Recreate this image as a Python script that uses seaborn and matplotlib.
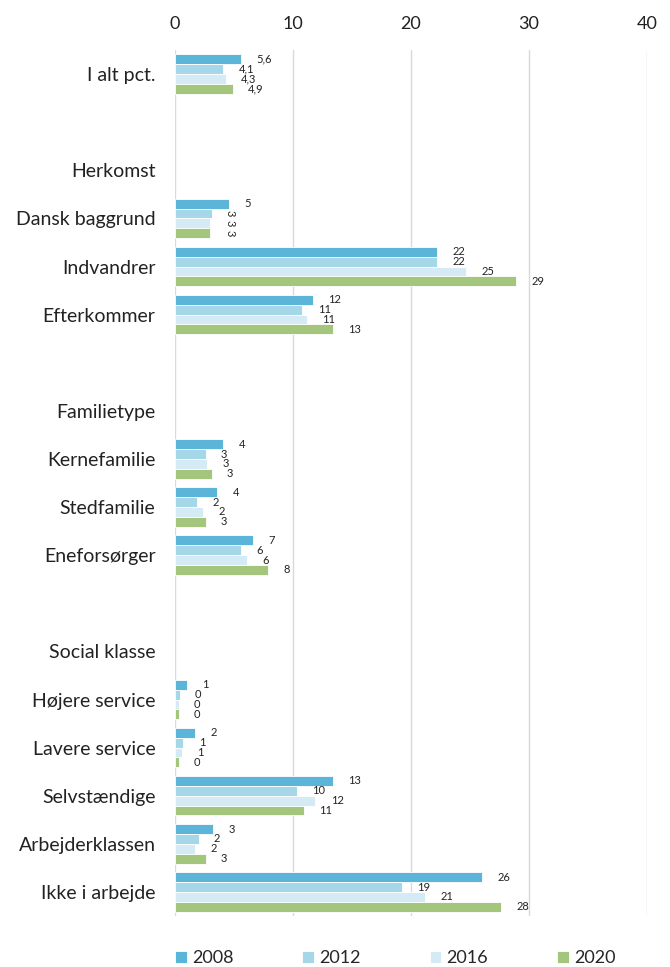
## importando bibliotecas
import pandas as pd
import matplotlib.pyplot as plt
import seaborn as sns

## kategorier (tomme raekker er mellemrum mellem grupperne)
kategorier = ['I alt pct.', ' ', 'Herkomst', 'Dansk baggrund', 'Indvandrer', 'Efterkommer', '  ',
              'Familietype', 'Kernefamilie', 'Stedfamilie', 'Eneforsørger', '   ',
              'Social klasse', 'Højere service', 'Lavere service', 'Selvstændige',
              'Arbejderklassen', 'Ikke i arbejde']
med_data = ['I alt pct.', 'Dansk baggrund', 'Indvandrer', 'Efterkommer', 'Kernefamilie',
            'Stedfamilie', 'Eneforsørger', 'Højere service', 'Lavere service', 'Selvstændige',
            'Arbejderklassen', 'Ikke i arbejde']
aar = ['2008', '2012', '2016', '2020']

v2008 = [5.6, 4.6, 22.2, 11.7, 4.1, 3.6, 6.6, 1.0, 1.7, 13.4, 3.2, 26.0]
v2012 = [4.1, 3.1, 22.2, 10.8, 2.6, 1.9, 5.6, 0.4, 0.7, 10.3, 2.0, 19.2]
v2016 = [4.3, 3.0, 24.7, 11.2, 2.7, 2.4, 6.1, 0.3, 0.6, 11.9, 1.7, 21.2]
v2020 = [4.9, 3.0, 28.9, 13.4, 3.1, 2.6, 7.9, 0.3, 0.3, 10.9, 2.6, 27.6]

farver = ['#5BB5D9', '#A6D7E8', '#D4EBF5', '#A3C57C']

## long format til seaborn
rows = []
for a, vals in zip(aar, [v2008, v2012, v2016, v2020]):
    for k, v in zip(med_data, vals):
        rows.append({'kategori': k, 'aar': a, 'pct': v})
df = pd.DataFrame(rows)

sns.set_theme(style='white')
plt.rcParams['font.family'] = ['Lato', 'DejaVu Sans']

fig = plt.figure(figsize=(6.7, 9.67), dpi=100)
ax = fig.add_axes([175 / 670, 1 - 916 / 967, 472 / 670, 866 / 967])

sns.barplot(data=df, y='kategori', x='pct', hue='aar', order=kategorier, hue_order=aar,
            palette=farver, saturation=1, orient='h', width=0.82, edgecolor='white',
            linewidth=0.6, ax=ax, zorder=3)

## data labels (i excel-originalen staar 3-tallene ved dansk baggrund drejet)
for i, cont in enumerate(ax.containers):
    for bar in cont:
        w = bar.get_width()
        yc = bar.get_y() + bar.get_height() / 2
        kat = kategorier[int(round(yc))]
        if kat == 'I alt pct.':
            txt = f'{w:.1f}'.replace('.', ',')
        else:
            txt = f'{round(w)}'
        if kat == 'Dansk baggrund' and i > 0:
            ax.text(4.65, yc, txt, rotation=-90, ha='center', va='center',
                    fontsize=8, color='#222222')
        else:
            ax.text(w + 1.3, yc, txt, ha='left', va='center', fontsize=8, color='#222222')

ax.set_xlim(0, 40)
ax.set_xticks([0, 10, 20, 30, 40])
ax.set_ylim(len(kategorier) - 0.5, -0.5)
ax.xaxis.tick_top()
ax.set_xlabel('')
ax.set_ylabel('')
ax.grid(axis='x', color='#D9D9D9', linewidth=1, zorder=0)
for s in ax.spines.values():
    s.set_visible(False)
ax.tick_params(axis='x', length=0, pad=13, labelsize=13, labelcolor='#222222')
ax.tick_params(axis='y', length=0, pad=14, labelsize=14, labelcolor='#222222')

## legenda i bunden
handles, labs = ax.get_legend_handles_labels()
ax.get_legend().remove()
fig.legend(handles, labs, loc='center left', bbox_to_anchor=(175 / 670, 1 - 958 / 967),
           ncol=4, frameon=False, fontsize=13, handlelength=0.65, handleheight=0.65,
           handletextpad=0.3, columnspacing=3.8, borderpad=0, borderaxespad=0)

fig.savefig('out.png', dpi=100)
plt.close()
